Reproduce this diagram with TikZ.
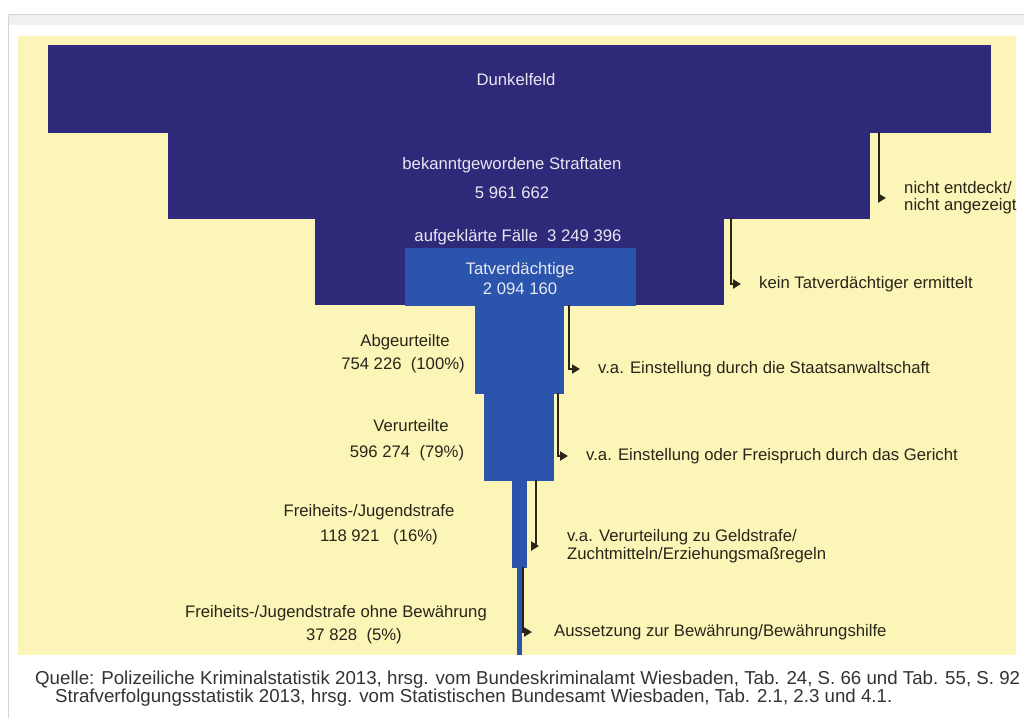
\documentclass[tikz,border=0pt]{standalone}
\usepackage{fontspec}
\setmainfont{Liberation Sans}
\usetikzlibrary{arrows.meta}
\definecolor{navy}{RGB}{46,41,120}
\definecolor{midblue}{RGB}{43,84,172}
\definecolor{bgyellow}{RGB}{251,246,184}
\definecolor{labtext}{RGB}{40,37,25}
\definecolor{boxtext}{RGB}{232,232,242}
\definecolor{framegray}{RGB}{214,214,214}
\definecolor{bandgray}{RGB}{240,240,240}
\begin{document}
\begin{tikzpicture}[x=1pt,y=-1pt,
  blk/.style={draw=none, inner sep=0pt, outer sep=0pt, anchor=north west},
  intext/.style={text=boxtext, inner sep=0pt, font=\fontsize{16.7}{19}\selectfont},
  sidelab/.style={text=labtext, inner sep=0pt, font=\fontsize{16.7}{19}\selectfont},
  outlab/.style={text=labtext, anchor=west, inner ysep=0pt, inner xsep=9pt, align=left, font=\fontsize{16.7}{19}\selectfont},
  conn/.style={draw=labtext, line width=2.8pt, -{Triangle[length=8pt,width=9pt]}},
  captxt/.style={text=black!80, anchor=west, inner sep=0pt, font=\fontsize{18.7}{21}\selectfont}]
\useasboundingbox (0,0) rectangle (1024,718);
% frame and background
\fill[white] (0,0) rectangle (1024,718);
\fill[bandgray] (8,14) rectangle (1024,25);
\draw[framegray, line width=1.5pt] (8.5,718) -- (8.5,14.5) -- (1024,14.5);
\fill[bgyellow] (18,36) rectangle (1016,655);
% funnel blocks
\node[blk, fill=navy, minimum width=943pt, minimum height=87.5pt] (b1) at (48,45) {};
\node[blk, fill=navy, minimum width=702pt, minimum height=86.5pt] (b2) at (168,132) {};
\node[blk, fill=navy, minimum width=409pt, minimum height=87pt] (b3) at (315,218) {};
\node[blk, fill=midblue, minimum width=231pt, minimum height=57.5pt] (tv) at (405,248) {};
\node[blk, fill=midblue, minimum width=89pt, minimum height=88.5pt] (ab) at (475,305) {};
\node[blk, fill=midblue, minimum width=70pt, minimum height=87.5pt] (ve) at (484,393) {};
\node[blk, fill=midblue, minimum width=15pt, minimum height=87.5pt] (fr) at (512,480) {};
\node[blk, fill=midblue, minimum width=5pt, minimum height=88pt] (oh) at (517,567) {};
% texts inside blocks
\node[intext] (t1) at (516,80) {Dunkelfeld};
\node[intext] (t2a) at (512,165) {bekanntgewordene Straftaten};
\node[intext] (t2b) at (512,193) {5 961 662};
\node[intext] (t3) at (518,237) {aufgeklärte Fälle\ \ 3 249 396};
\node[intext] (t4a) at (520,270) {Tatverdächtige};
\node[intext] (t4b) at (520,289) {2 094 160};
% left labels
\node[sidelab] (l1a) at (405,342) {Abgeurteilte};
\node[sidelab] (l1b) at (403,365) {754 226\ \ (100\%)};
\node[sidelab] (l2a) at (411,426) {Verurteilte};
\node[sidelab] (l2b) at (407,453) {596 274\ \ (79\%)};
\node[sidelab] (l3a) at (369,512) {Freiheits-/Jugendstrafe};
\node[sidelab] (l3b) at (379,537) {118 921\ \ \ (16\%)};
\node[sidelab] (l4a) at (336,613) {Freiheits-/Jugendstrafe ohne Bewährung};
\node[sidelab] (l4b) at (354,636) {37 828\ \ (5\%)};
% right labels
\node[outlab] (r1) at (895,198) {nicht entdeckt/\\[-2pt]nicht angezeigt};
\node[outlab] (r2) at (750,284) {kein Tatverdächtiger ermittelt};
\node[outlab] (r3) at (589,369) {v.a. Einstellung durch die Staatsanwaltschaft};
\node[outlab] (r4) at (577,456) {v.a. Einstellung oder Freispruch durch das Gericht};
\node[outlab, inner xsep=14pt] (r5) at (553,546) {v.a. Verurteilung zu Geldstrafe/\\[-1pt]Zuchtmitteln/Erziehungsmaßregeln};
\node[outlab, inner xsep=11pt] (r6) at (543,632) {Aussetzung zur Bewährung/Bewährungshilfe};
% connector start points
\coordinate (c1) at (879,132);
\coordinate (c2) at (731,218);
\coordinate (c3) at (569,305);
\coordinate (c4) at (558,393);
\coordinate (c5) at (536,480);
\coordinate (c6) at (523,567);
\draw[conn] (c1) |- ([xshift=-9pt]r1.west);
\draw[conn] (c2) |- ([xshift=-9pt]r2.west);
\draw[conn] (c3) |- ([xshift=-9pt]r3.west);
\draw[conn] (c4) |- ([xshift=-9pt]r4.west);
\draw[conn] (c5) |- ([xshift=-14pt]r5.west);
\draw[conn] (c6) |- ([xshift=-11pt]r6.west);
% caption
\node[captxt] (q1) at (35,680) {Quelle: Polizeiliche Kriminalstatistik 2013, hrsg. vom Bundeskriminalamt Wiesbaden, Tab. 24, S. 66 und Tab. 55, S. 92};
\node[captxt] (q2) at (55,698) {Strafverfolgungsstatistik 2013, hrsg. vom Statistischen Bundesamt Wiesbaden, Tab. 2.1, 2.3 und 4.1.};
\end{tikzpicture}
\end{document}
